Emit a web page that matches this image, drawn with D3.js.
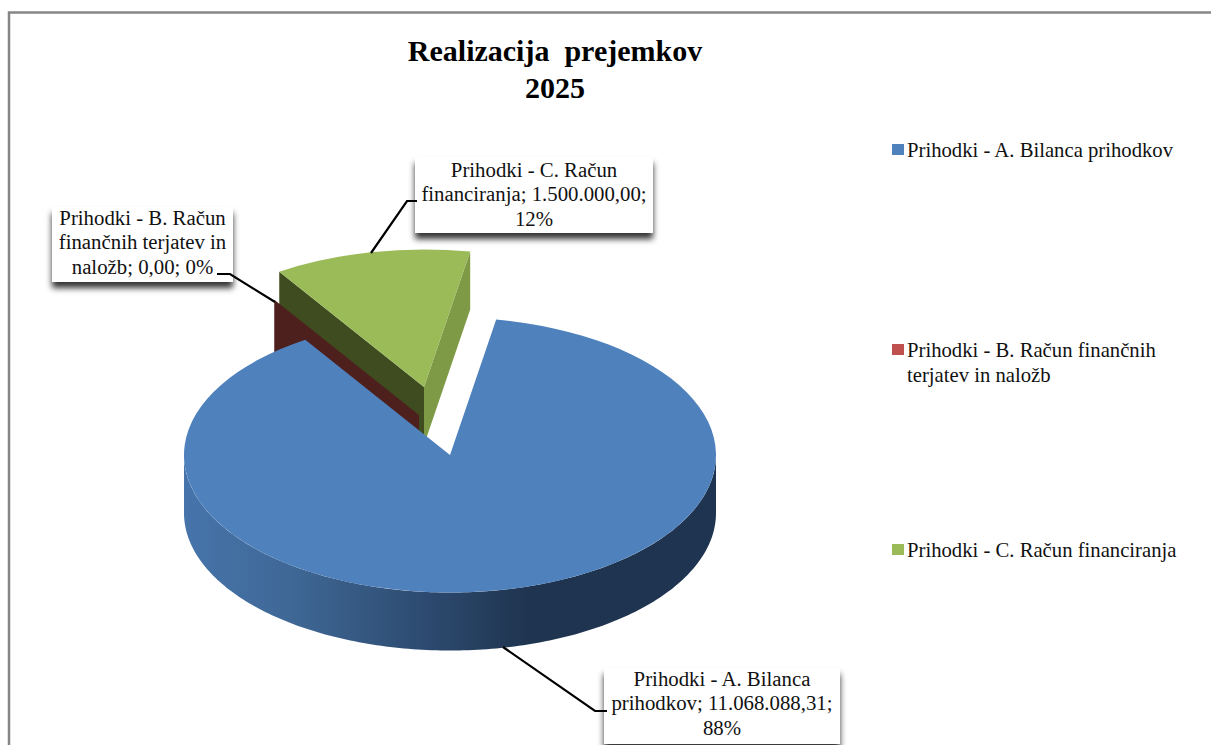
<!DOCTYPE html>
<html>
<head>
<meta charset="utf-8">
<script src="https://cdnjs.cloudflare.com/ajax/libs/d3/7.8.5/d3.min.js"></script>
<style>
  html, body { margin: 0; padding: 0; background: #fff; overflow: hidden; }
  text { font-family: "Liberation Serif", serif; fill: #111; }
</style>
</head>
<body>
<script>
// chart data
var categories = ["Prihodki - A. Bilanca prihodkov", "Prihodki - B. Račun finančnih terjatev in naložb", "Prihodki - C. Račun financiranja"];
var values = [11068088.31, 0, 1500000];
var titleLines = ["Realizacija  prejemkov", "2025"];
var legendLines = [["Prihodki - A. Bilanca prihodkov"], ["Prihodki - B. Račun finančnih", "terjatev in naložb"], ["Prihodki - C. Račun financiranja"]];
var labelLinesA = ["Prihodki - A. Bilanca", "prihodkov; 11.068.088,31;", "88%"];
var labelLinesB = ["Prihodki - B. Račun", "finančnih terjatev in", "naložb; 0,00; 0%"];
var labelLinesC = ["Prihodki - C. Račun", "financiranja; 1.500.000,00;", "12%"];

var w = 1211, h = 745;
var svg = d3.select("body").append("svg").attr("width", w).attr("height", h).style("display", "block");

// pie geometry
var cx = 450, cy = 455, rx = 266, ry = 137.5, depth = 58;
var rad = Math.PI / 180;
var offsets = [[0, 0], [-31, -40], [-26, -68]]; // exploded slices
var colors = ["#4f81bd", "#c0504d", "#9bbb59"];

var pie = d3.pie().sort(null).startAngle(10 * rad).endAngle(370 * rad);
var slices = pie(values);

// point on the ellipse rim of slice i, dz pushes it down to the bottom face
function rim(i, a, dz) {
  return [cx + offsets[i][0] + rx * Math.sin(a), cy + offsets[i][1] - ry * Math.cos(a) + (dz || 0)];
}
function apex(i, dz) {
  return [cx + offsets[i][0], cy + offsets[i][1] + (dz || 0)];
}
var line = d3.line();

var defs = svg.append("defs");
var grad = defs.append("linearGradient").attr("id", "wall").attr("gradientUnits", "userSpaceOnUse")
  .attr("x1", cx - rx).attr("x2", cx + rx).attr("y1", 0).attr("y2", 0);
grad.selectAll("stop").data([[0, "#4674ab"], [0.2, "#3f6896"], [0.45, "#2d4b70"], [0.65, "#1f344f"], [1, "#1e3450"]])
  .enter().append("stop").attr("offset", d => d[0]).attr("stop-color", d => d[1]);

var shadow = defs.append("filter").attr("id", "shadow").attr("x", "-10%").attr("y", "-10%").attr("width", "120%").attr("height", "135%");
shadow.append("feDropShadow").attr("dx", 0).attr("dy", 6).attr("stdDeviation", 3)
  .attr("flood-color", "#000").attr("flood-opacity", 0.8);

// chart frame, runs off the picture at right and bottom
svg.append("rect").attr("x", 9).attr("y", 12.5).attr("width", 1400).attr("height", 900)
  .attr("fill", "#fff").attr("stroke", "#868686").attr("stroke-width", 2.5);

// title
svg.selectAll(".title").data(titleLines).enter().append("text").attr("class", "title")
  .attr("x", 555).attr("y", (d, i) => 61 + i * 37)
  .attr("text-anchor", "middle").attr("font-size", "30px").attr("font-weight", "bold")
  .style("white-space", "pre").style("fill", "#000").text(d => d);

// green slice walls
var gs = slices[2], gb = slices[1];
svg.append("path").attr("fill", "#7f9a46")
  .attr("d", line([apex(2), rim(2, gs.endAngle), rim(2, gs.endAngle, depth), apex(2, depth)]) + "Z");
svg.append("path").attr("fill", "#3f4c20")
  .attr("d", line([apex(2), rim(2, gs.startAngle), rim(2, gs.startAngle, depth), apex(2, depth)]) + "Z");

// the empty slice only shows as its cut face
svg.append("path").attr("fill", "#4d1f1d")
  .attr("d", line([apex(1), rim(1, gb.startAngle), rim(1, gb.startAngle, depth), apex(1, depth)]) + "Z");

// green top
var arc = d3.arc().innerRadius(0).outerRadius(rx);
svg.append("path").attr("fill", colors[2])
  .attr("transform", "translate(" + apex(2) + ") scale(1," + (ry / rx) + ")")
  .attr("d", arc(gs));

// blue outer wall, only the front half of the rim can be seen
var front = d3.range(90, 270.5, 1).map(d => d * rad);
var wallPts = front.map(a => rim(0, a)).concat(front.slice().reverse().map(a => rim(0, a, depth)));
svg.append("path").attr("fill", "url(#wall)").attr("d", line(wallPts) + "Z");

// blue top
svg.append("path").attr("fill", colors[0])
  .attr("transform", "translate(" + apex(0) + ") scale(1," + (ry / rx) + ")")
  .attr("d", arc(slices[0]));

// leader lines
var leaders = [
  [[607, 711], [595, 711], [503, 647]],
  [[217, 274], [230, 274], [275, 302]],
  [[417, 201], [407, 201], [371, 253]]
];
svg.selectAll(".leader").data(leaders).enter().append("path").attr("class", "leader")
  .attr("fill", "none").attr("stroke", "#000").attr("stroke-width", 2.2).attr("d", d => line(d));

// data labels
var boxes = [
  { x: 604, y: 668, w: 236, h: 76, lines: labelLinesA, base: 686 },
  { x: 52, y: 207, w: 181, h: 75, lines: labelLinesB, base: 225 },
  { x: 415, y: 157, w: 238, h: 76, lines: labelLinesC, base: 177 }
];
var lab = svg.selectAll(".lab").data(boxes).enter().append("g").attr("class", "lab");
lab.append("rect").attr("x", d => d.x).attr("y", d => d.y).attr("width", d => d.w).attr("height", d => d.h)
  .attr("fill", "#fff").attr("filter", "url(#shadow)");
lab.each(function(d) {
  d3.select(this).selectAll("text").data(d.lines).enter().append("text")
    .attr("x", d.x + d.w / 2).attr("y", (t, i) => d.base + i * 24.3)
    .attr("text-anchor", "middle").attr("font-size", "20.8px").text(t => t);
});
// leaders A and B start on top of their boxes in the reference
svg.selectAll(".leader").raise();

// legend
var legendY = [150, 350, 550];
var leg = svg.selectAll(".leg").data(categories).enter().append("g").attr("class", "leg");
leg.append("rect").attr("x", 892).attr("y", (d, i) => legendY[i] - 6).attr("width", 12).attr("height", 11)
  .attr("fill", (d, i) => colors[i]);
leg.each(function(d, i) {
  d3.select(this).selectAll("text").data(legendLines[i]).enter().append("text")
    .attr("x", 907).attr("y", (t, j) => legendY[i] + 7 + j * 25)
    .attr("font-size", "20.7px").text(t => t);
});
</script>
</body>
</html>
